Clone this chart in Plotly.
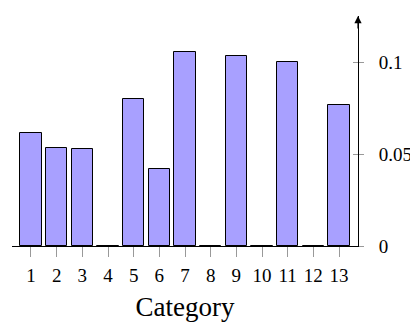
import plotly.graph_objects as go

categories = list(range(1, 14))
values = [0.0614, 0.0533, 0.0527, 0.0, 0.0799, 0.0416, 0.1052, 0.0, 0.1033, 0.0, 0.1000, 0.0, 0.0768]
x_tick_labels = [str(c) for c in categories]
y_tick_vals = [0, 0.05, 0.1]
y_tick_labels = ["0", "0.05", "0.1"]

FONT = "Liberation Serif"

fig = go.Figure()
fig.add_trace(go.Bar(
    x=categories, y=values, width=0.84,
    marker=dict(color="rgb(168,160,255)", line=dict(color="black", width=1)),
    showlegend=False,
))

fig.update_layout(
    width=410, height=323,
    margin=dict(l=12, r=52, t=16, b=77),
    plot_bgcolor="white", paper_bgcolor="white",
    font=dict(family=FONT, color="black", size=19),
    bargap=0,
    xaxis=dict(
        range=[0.26, 13.74], tickmode="array", tickvals=categories, ticktext=x_tick_labels,
        showgrid=False, zeroline=False, showline=True, linecolor="black", linewidth=1,
        ticks="outside", ticklen=10, tickcolor="#999", tickwidth=1,
        ticklabelstandoff=2, tickfont=dict(size=19, family=FONT),
        title=dict(text="Category", font=dict(size=27, family=FONT), standoff=12),
        automargin=False,
    ),
    yaxis=dict(
        range=[0, 0.125], side="right", tickmode="array", tickvals=y_tick_vals, ticktext=y_tick_labels,
        showgrid=False, zeroline=False, showline=True, linecolor="black", linewidth=1,
        ticks="outside", ticklen=5, tickcolor="#999", tickwidth=1,
        ticklabelstandoff=11, tickfont=dict(size=19, family=FONT),
        automargin=False,
    ),
    yaxis2=dict(
        range=[0, 0.125], side="right", overlaying="y", tickmode="array", tickvals=y_tick_vals,
        showticklabels=False, showgrid=False, zeroline=False, showline=False,
        ticks="inside", ticklen=5, tickcolor="#999", tickwidth=1, automargin=False,
    ),
)

fig.add_trace(go.Scatter(x=[], y=[], yaxis="y2", showlegend=False))

fig.add_annotation(
    xref="paper", yref="paper", x=1, y=1, ax=0, ay=14, axref="pixel", ayref="pixel",
    showarrow=True, arrowhead=2, arrowsize=1.2, arrowwidth=1.2, arrowcolor="black", text="",
)

fig.write_html("out.html")
